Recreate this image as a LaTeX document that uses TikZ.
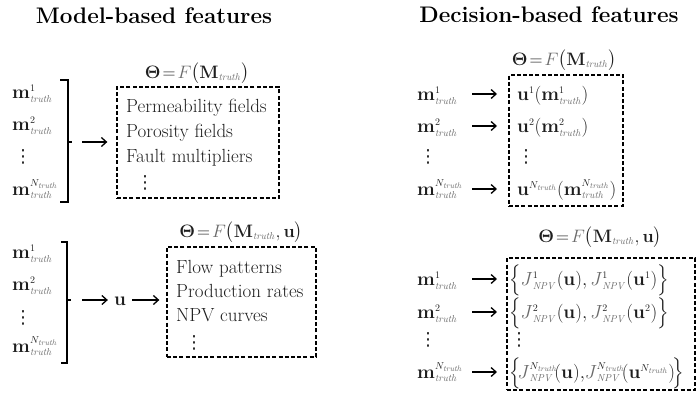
\RequirePackage{fix-cm}
\documentclass[tikz,border=0pt]{standalone}
\usepackage{amsmath}
\usepackage[no-math]{fontspec}
\newfontfamily\dejavu{DejaVu Sans}
\usetikzlibrary{arrows.meta,calc}
\definecolor{ink}{HTML}{1E1E1E}
\definecolor{subgray}{HTML}{6A6A6A}
% small scripts for the large math labels
\DeclareMathSizes{19}{19}{10}{8}
\DeclareMathSizes{18}{18}{10}{8}
% gray italic "truth" subscript and gray function letters
\newcommand\tru{{\color{subgray}\mathit{truth}}}
\newcommand\gF{{\color{subgray}F}}
\newcommand\gJ{{\color{subgray}J}}
\newcommand\npv{{\color{subgray}\mathit{NPV}}}
% vertical ellipsis as a single glyph
\newcommand\vdts{{\dejavu\fontsize{18}{20}\selectfont ⋮}}
\begin{document}
\begin{tikzpicture}[x=1pt,y=-1pt,
  lbl/.style={anchor=base west, inner sep=0pt, text=ink, font=\fontsize{19}{22}\selectfont},
  txt/.style={anchor=base west, inner sep=0pt, text=ink, font=\fontsize{19}{22}\selectfont},
  eqn/.style={anchor=base, inner sep=0pt, text=ink, font=\fontsize{18}{20}\selectfont},
  ttl/.style={anchor=base, inner sep=0pt, text=black, font=\bfseries\fontsize{22.5}{26}\selectfont},
  dbox/.style={draw=black, line width=1.3pt, dash pattern=on 4pt off 2.2pt, inner sep=0pt},
  arr/.style={-{Straight Barb[length=5pt,width=9pt]}, line width=1.3pt},
  brk/.style={line width=1.5pt},
]
\useasboundingbox (0,0) rectangle (697,394);

% ---------------- titles
\node[ttl] (t1) at (154,23) {Model-based features};
\node[ttl] (t2) at (549,22) {Decision-based features};

% ================= model-based, upper block
\node[eqn] (e1) at (197,78) {$\boldsymbol{\Theta}\!=\!\gF\bigl(\mathbf{M}_{\tru}\bigr)$};
\node[dbox, minimum width=162pt, minimum height=111pt] (b1) at (198,142.5) {};
\node[lbl] (a1) at (12,98) {$\mathbf{m}^{1}_{\tru}$};
\node[lbl] (a2) at (12,130) {$\mathbf{m}^{2}_{\tru}$};
\node[lbl] (a3) at (14,162) {\vdts};
\node[lbl] (a4) at (12,195) {$\mathbf{m}^{N_{\tru}}_{\tru}$};
\node[txt] (p1) at (126,112) {Permeability fields};
\node[txt] (p2) at (126,137) {Porosity fields};
\node[txt] (p3) at (126,162) {Fault multipliers};
\node[txt] (p4) at (136,188) {\vdts};
\coordinate (k1) at (72,142);
\draw[brk] (60,80) -- (68,80) -- (68,202) -- (60,202);
\draw[brk] (68,142) -- (k1);
\draw[arr, shorten <=10pt, shorten >=9pt] (k1) -- (k1 -| b1.west);

% ================= model-based, lower block
\node[eqn] (e2) at (241,237) {$\boldsymbol{\Theta}\!=\!\gF\bigl(\mathbf{M}_{\tru},\mathbf{u}\bigr)$};
\node[dbox, minimum width=149pt, minimum height=110pt] (b2) at (241.5,302) {};
\node[lbl] (c1) at (12,258) {$\mathbf{m}^{1}_{\tru}$};
\node[lbl] (c2) at (12,290) {$\mathbf{m}^{2}_{\tru}$};
\node[lbl] (c3) at (14,323) {\vdts};
\node[lbl] (c4) at (12,352) {$\mathbf{m}^{N_{\tru}}_{\tru}$};
\node[txt] (q1) at (176,273) {Flow patterns};
\node[txt] (q2) at (176,297) {Production rates};
\node[txt] (q3) at (176,321) {NPV curves};
\node[txt] (q4) at (185,348) {\vdts};
\coordinate (k2) at (71,300);
\draw[brk] (61,242) -- (67,242) -- (67,363) -- (61,363);
\draw[brk] (67,300) -- (k2);
\node[lbl, anchor=base] (u) at (120,305) {$\mathbf{u}$};
\draw[arr, shorten <=11pt, shorten >=6pt] (k2) -- (k2 -| u.west);
\draw[arr, shorten <=6pt, shorten >=7pt] (k2 -| u.east) -- (k2 -| b2.west);

% ================= decision-based, upper block
\node[eqn] (e3) at (564,65) {$\boldsymbol{\Theta}\!=\!\gF\bigl(\mathbf{M}_{\tru}\bigr)$};
\node[dbox, minimum width=114pt, minimum height=131pt] (b3) at (566,140.5) {};
\node[lbl] (r1) at (417,100) {$\mathbf{m}^{1}_{\tru}$};
\node[lbl] (r2) at (417,132) {$\mathbf{m}^{2}_{\tru}$};
\node[lbl] (r3) at (419,162) {\vdts};
\node[lbl] (r4) at (417,195) {$\mathbf{m}^{N_{\tru}}_{\tru}$};
\node[lbl] (s1) at (517,100) {$\mathbf{u}^{1}(\mathbf{m}^{1}_{\tru})$};
\node[lbl] (s2) at (517,132) {$\mathbf{u}^{2}(\mathbf{m}^{2}_{\tru})$};
\node[lbl] (s3) at (517,162) {\vdts};
\node[lbl] (s4) at (517,195) {$\mathbf{u}^{N_{\tru}}(\mathbf{m}^{N_{\tru}}_{\tru})$};
\foreach \n in {r1,r2,r4}
  \draw[arr] ($(\n.base west)+(55,-6)$) -- ($(\n.base west)+(80,-6)$);

% ================= decision-based, lower block
\node[eqn] (e4) at (600,242) {$\boldsymbol{\Theta}\!=\!\gF\bigl(\mathbf{M}_{\tru},\mathbf{u}\bigr)$};
\node[dbox, minimum width=188pt, minimum height=132pt] (b4) at (601,324) {};
\node[lbl] (d1) at (417,285) {$\mathbf{m}^{1}_{\tru}$};
\node[lbl] (d2) at (417,318) {$\mathbf{m}^{2}_{\tru}$};
\node[lbl] (d3) at (419,345) {\vdts};
\node[lbl] (d4) at (417,378) {$\mathbf{m}^{N_{\tru}}_{\tru}$};
\node[lbl] (j1) at (509,285) {$\Bigl\{\gJ^{1}_{\npv}(\mathbf{u}),\gJ^{1}_{\npv}(\mathbf{u}^{1})\Bigr\}$};
\node[lbl] (j2) at (509,318) {$\Bigl\{\gJ^{2}_{\npv}(\mathbf{u}),\gJ^{2}_{\npv}(\mathbf{u}^{2})\Bigr\}$};
\node[lbl] (j3) at (510,345) {\vdts};
\node[lbl] (j4) at (509,378) {$\Bigl\{\!\gJ^{N_{\tru}}_{\npv}\!(\mathbf{u}),\!\gJ^{N_{\tru}}_{\npv}\!(\mathbf{u}^{N_{\tru}})\!\Bigr\}$};
\foreach \n in {d1,d2,d4}
  \draw[arr] ($(\n.base west)+(55,-6)$) -- ($(\n.base west)+(80,-6)$);
\end{tikzpicture}
\end{document}
